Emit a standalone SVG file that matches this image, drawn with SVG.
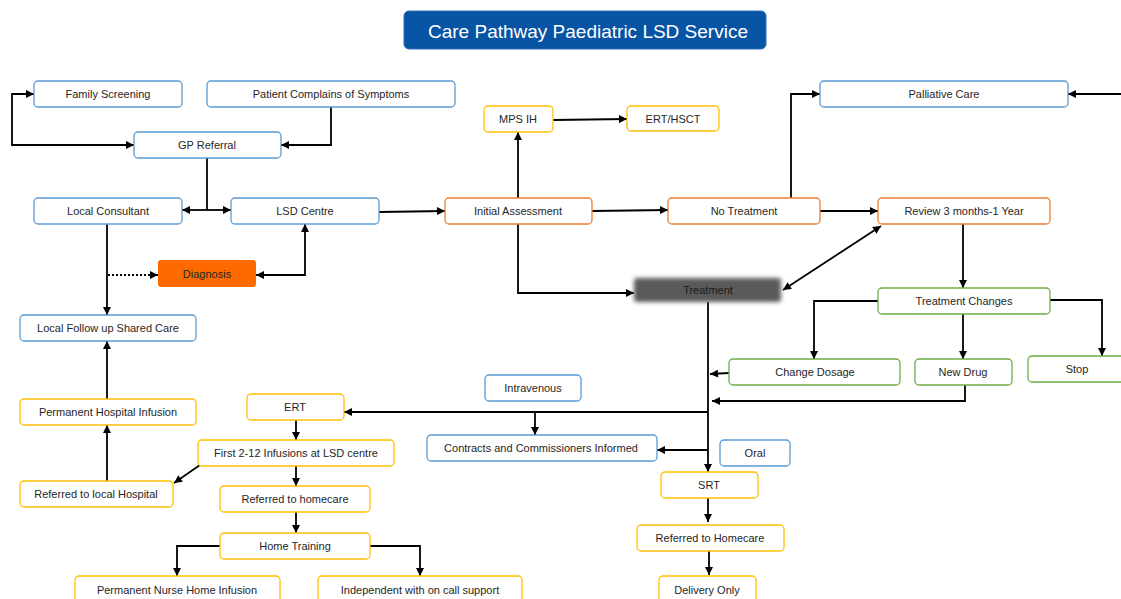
<svg xmlns="http://www.w3.org/2000/svg" width="1121" height="599" viewBox="0 0 1121 599">
<style>
text{font-family:"Liberation Sans",Arial,sans-serif;font-size:11px;fill:#262626;text-anchor:middle;dominant-baseline:central}
.b{fill:#fff;stroke:#5b9bd5;stroke-width:1.3}
.o{fill:#fff;stroke:#ed7d31;stroke-width:1.3}
.y{fill:#fff;stroke:#ffc000;stroke-width:1.3}
.g{fill:#fff;stroke:#70ad47;stroke-width:1.3}
.c{fill:none;stroke:#000;stroke-width:1.8}
.d{stroke-dasharray:2 2}
</style>
<defs>
<marker id="a" viewBox="0 0 10 10" refX="10" refY="5" markerWidth="9" markerHeight="8" markerUnits="userSpaceOnUse" orient="auto-start-reverse"><path d="M0,0L10,5L0,10z" fill="#000"/></marker>
<filter id="bl" x="-10%" y="-30%" width="120%" height="160%"><feGaussianBlur stdDeviation="2"/></filter>
</defs>
<rect width="1121" height="599" fill="#fff"/>
<g id="title"><rect x="404" y="11" width="362" height="38" rx="5" fill="#0754a4" stroke="#2f6db5"/><text x="588" y="31" style="font-size:19px;fill:#fff">Care Pathway Paediatric LSD Service</text></g>

<g id="connectors">
<path class="c" d="M134,145H12V94H34" marker-start="url(#a)" marker-end="url(#a)"/>
<path class="c" d="M331,107V145H281" marker-end="url(#a)"/>
<path class="c" d="M207,158V210"/>
<path class="c" d="M207,210H182" marker-end="url(#a)"/>
<path class="c" d="M207,210H231" marker-end="url(#a)"/>
<path class="c" d="M379,212L445,211" marker-end="url(#a)"/>
<path class="c" d="M518,198V132" marker-end="url(#a)"/>
<path class="c" d="M553,120L627,119" marker-end="url(#a)"/>
<path class="c" d="M592,211L668,210" marker-end="url(#a)"/>
<path class="c" d="M791,198V94H820" marker-end="url(#a)"/>
<path class="c" d="M820,211H878" marker-end="url(#a)"/>
<path class="c" d="M1121,94H1068" marker-end="url(#a)"/>
<path class="c" d="M518,224V293H634" marker-end="url(#a)"/>
<path class="c" d="M783,290L881,226" marker-start="url(#a)" marker-end="url(#a)"/>
<path class="c" d="M963,224V288" marker-end="url(#a)"/>
<path class="c" d="M878,301H814V359" marker-end="url(#a)"/>
<path class="c" d="M963,314V359" marker-end="url(#a)"/>
<path class="c" d="M1050,300H1102V356" marker-end="url(#a)"/>
<path class="c" d="M729,373L710,374" marker-end="url(#a)"/>
<path class="c" d="M965,385V401H712" marker-end="url(#a)"/>
<path class="c" d="M708,302V472" marker-end="url(#a)"/>
<path class="c" d="M708,412H344" marker-end="url(#a)"/>
<path class="c" d="M535,413V435" marker-end="url(#a)"/>
<path class="c" d="M708,450H657" marker-end="url(#a)"/>
<path class="c" d="M708,498V522" marker-end="url(#a)"/>
<path class="c" d="M709,551V575" marker-end="url(#a)"/>
<path class="c" d="M296,420V440" marker-end="url(#a)"/>
<path class="c" d="M200,465L174,483" marker-end="url(#a)"/>
<path class="c" d="M107,481V425" marker-end="url(#a)"/>
<path class="c" d="M107,399V341" marker-end="url(#a)"/>
<path class="c" d="M107,224V315" marker-end="url(#a)"/>
<path class="c d" d="M108,275H158" marker-end="url(#a)"/>
<path class="c" d="M256,275H305V224" marker-start="url(#a)" marker-end="url(#a)"/>
<path class="c" d="M296,466V486" marker-end="url(#a)"/>
<path class="c" d="M296,512V533" marker-end="url(#a)"/>
<path class="c" d="M220,546H177V576" marker-end="url(#a)"/>
<path class="c" d="M370,546H420V576" marker-end="url(#a)"/>
</g>

<g id="family-screening"><rect class="b" x="34" y="81" width="148" height="26" rx="4"/><text x="108" y="94">Family Screening</text></g>
<g id="patient-complains"><rect class="b" x="207" y="81" width="248" height="26" rx="4"/><text x="331" y="94">Patient Complains of Symptoms</text></g>
<g id="gp-referral"><rect class="b" x="134" y="132" width="147" height="26" rx="4"/><text x="207" y="145">GP Referral</text></g>
<g id="local-consultant"><rect class="b" x="34" y="198" width="148" height="26" rx="4"/><text x="108" y="211">Local Consultant</text></g>
<g id="lsd-centre"><rect class="b" x="231" y="198" width="148" height="26" rx="4"/><text x="305" y="211">LSD Centre</text></g>
<g id="initial-assessment"><rect class="o" x="445" y="198" width="147" height="26" rx="4"/><text x="518" y="211">Initial Assessment</text></g>
<g id="mps-ih"><rect class="y" x="484" y="106" width="69" height="26" rx="4"/><text x="518" y="119">MPS IH</text></g>
<g id="ert-hsct"><rect class="y" x="627" y="106" width="92" height="25" rx="4"/><text x="673" y="118.5">ERT/HSCT</text></g>
<g id="no-treatment"><rect class="o" x="668" y="198" width="152" height="26" rx="4"/><text x="744" y="211">No Treatment</text></g>
<g id="palliative-care"><rect class="b" x="820" y="81" width="248" height="26" rx="4"/><text x="944" y="94">Palliative Care</text></g>
<g id="review"><rect class="o" x="878" y="198" width="172" height="26" rx="4"/><text x="964" y="211">Review 3 months-1 Year</text></g>
<g id="diagnosis"><rect x="158" y="260" width="98" height="27" rx="3" fill="#ff6a00"/><text x="207" y="273.5">Diagnosis</text></g>
<g id="treatment"><rect x="634" y="278" width="147" height="24" rx="3" fill="#5a5a5a" filter="url(#bl)"/><text x="708" y="290" style="fill:#1a1a1a">Treatment</text></g>
<g id="local-follow-up"><rect class="b" x="20" y="315" width="176" height="26" rx="4"/><text x="108" y="328">Local Follow up Shared Care</text></g>
<g id="treatment-changes"><rect class="g" x="878" y="288" width="172" height="26" rx="4"/><text x="964" y="301">Treatment Changes</text></g>
<g id="change-dosage"><rect class="g" x="729" y="359" width="171" height="26" rx="4"/><text x="815" y="372">Change Dosage</text></g>
<g id="new-drug"><rect class="g" x="915" y="359" width="97" height="26" rx="4"/><text x="963" y="372">New Drug</text></g>
<g id="stop"><rect class="g" x="1028" y="356" width="100" height="26" rx="4"/><text x="1077" y="369">Stop</text></g>
<g id="intravenous"><rect class="b" x="485" y="375" width="96" height="26" rx="4"/><text x="533" y="388">Intravenous</text></g>
<g id="permanent-hospital-infusion"><rect class="y" x="20" y="399" width="176" height="26" rx="4"/><text x="108" y="412">Permanent Hospital Infusion</text></g>
<g id="ert"><rect class="y" x="247" y="394" width="97" height="26" rx="4"/><text x="295" y="407">ERT</text></g>
<g id="contracts"><rect class="b" x="427" y="435" width="230" height="26" rx="4"/><text x="541" y="448">Contracts and Commissioners Informed</text></g>
<g id="oral"><rect class="b" x="720" y="440" width="70" height="26" rx="4"/><text x="755" y="453">Oral</text></g>
<g id="first-infusions"><rect class="y" x="198" y="440" width="196" height="26" rx="4"/><text x="296" y="453">First 2-12 Infusions at LSD centre</text></g>
<g id="referred-local-hospital"><rect class="y" x="20" y="481" width="153" height="26" rx="4"/><text x="96" y="494">Referred to local Hospital</text></g>
<g id="srt"><rect class="y" x="661" y="472" width="97" height="26" rx="4"/><text x="709" y="485">SRT</text></g>
<g id="referred-homecare-ert"><rect class="y" x="220" y="486" width="150" height="26" rx="4"/><text x="295" y="499">Referred to homecare</text></g>
<g id="referred-homecare-srt"><rect class="y" x="637" y="525" width="147" height="26" rx="4"/><text x="710" y="538">Referred to Homecare</text></g>
<g id="home-training"><rect class="y" x="220" y="533" width="150" height="26" rx="4"/><text x="295" y="546">Home Training</text></g>
<g id="permanent-nurse"><rect class="y" x="75" y="576" width="205" height="26" rx="4"/><text x="177" y="590">Permanent Nurse Home Infusion</text></g>
<g id="independent"><rect class="y" x="318" y="576" width="204" height="26" rx="4"/><text x="420" y="590">Independent with on call support</text></g>
<g id="delivery-only"><rect class="y" x="659" y="576" width="97" height="26" rx="4"/><text x="707" y="590">Delivery Only</text></g>
</svg>
